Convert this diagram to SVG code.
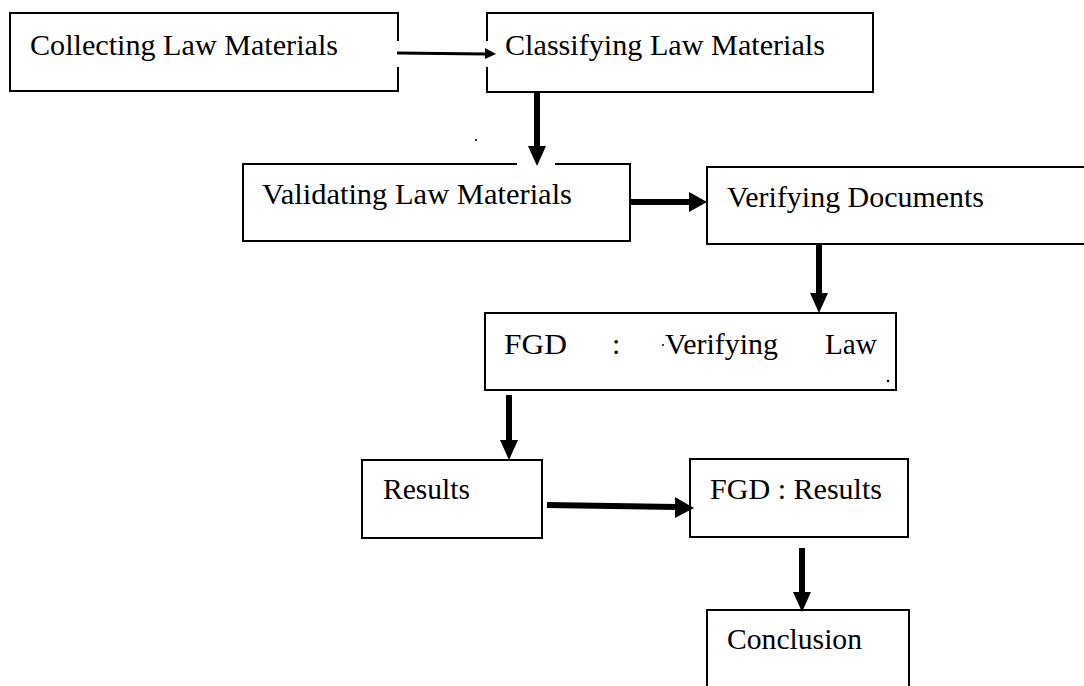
<svg xmlns="http://www.w3.org/2000/svg" width="1084" height="686" viewBox="0 0 1084 686">
<style>
.box{fill:#fff;stroke:#000;stroke-width:2}
.edge{fill:none;stroke:#000;stroke-width:2}
.t{font-family:"Liberation Serif","Times New Roman",serif;font-size:30px;fill:#000}
.c{stroke:#000;fill:none}
.h{fill:#000;stroke:none}
</style>
<rect width="1084" height="686" fill="#fff"/>
<g id="n1">
<path class="edge" d="M398,41 V13 H10 V91 H398 V67"/>
<text class="t" x="30" y="55" textLength="308" lengthAdjust="spacingAndGlyphs">Collecting Law Materials</text>
</g>
<g id="n2">
<path class="edge" d="M487,41 V13 H873 V92 H487 V67"/>
<text class="t" x="505" y="55" textLength="320" lengthAdjust="spacingAndGlyphs">Classifying Law Materials</text>
</g>
<g id="n3">
<path class="edge" d="M517,164 H243 V241 H630 V164 H555"/>
<text class="t" x="262" y="204" textLength="310" lengthAdjust="spacingAndGlyphs">Validating Law Materials</text>
</g>
<g id="n4">
<path class="edge" d="M1086,167 H707 V244 H1086"/>
<text class="t" x="727" y="207" textLength="257" lengthAdjust="spacingAndGlyphs">Verifying Documents</text>
</g>
<g id="n5">
<rect class="box" x="485" y="313" width="411" height="77"/>
<text class="t" y="354"><tspan x="504" textLength="63" lengthAdjust="spacingAndGlyphs">FGD</tspan><tspan x="612">:</tspan><tspan x="665" textLength="113" lengthAdjust="spacingAndGlyphs">Verifying</tspan><tspan x="825" textLength="52" lengthAdjust="spacingAndGlyphs">Law</tspan></text>
<circle cx="663" cy="345" r="1" fill="#000"/>
<circle cx="888" cy="381" r="1.2" fill="#000"/>
</g>
<g id="n6">
<rect class="box" x="362" y="460" width="180" height="78"/>
<text class="t" x="383" y="499" textLength="87" lengthAdjust="spacingAndGlyphs">Results</text>
</g>
<g id="n7">
<rect class="box" x="690" y="459" width="218" height="78"/>
<text class="t" x="710" y="499" textLength="172" lengthAdjust="spacingAndGlyphs">FGD : Results</text>
</g>
<g id="n8">
<path class="edge" d="M707,690 V610 H909 V690"/>
<text class="t" x="727" y="649" textLength="135" lengthAdjust="spacingAndGlyphs">Conclusion</text>
</g>
<g id="connectors">
<line class="c" x1="397" y1="53" x2="486" y2="54" stroke-width="3"/>
<polygon class="h" points="485,48 496,54 485,59"/>
<line class="c" x1="537" y1="93" x2="537" y2="147" stroke-width="6"/>
<polygon class="h" points="528,146 546,146 537,166"/>
<line class="c" x1="631" y1="202" x2="691" y2="202" stroke-width="6"/>
<polygon class="h" points="689,192 707,202 689,212"/>
<line class="c" x1="819" y1="245" x2="819" y2="295" stroke-width="6"/>
<polygon class="h" points="810,293 828,293 819,313"/>
<line class="c" x1="509" y1="395" x2="509" y2="442" stroke-width="6"/>
<polygon class="h" points="500,440 518,440 509,460"/>
<line class="c" x1="547" y1="505" x2="677" y2="507" stroke-width="6"/>
<polygon class="h" points="675,497 694,508 675,518"/>
<line class="c" x1="802" y1="548" x2="802" y2="594" stroke-width="6"/>
<polygon class="h" points="793,592 811,592 802,612"/>
<circle cx="476" cy="140" r="1" fill="#000"/>
</g>
</svg>
